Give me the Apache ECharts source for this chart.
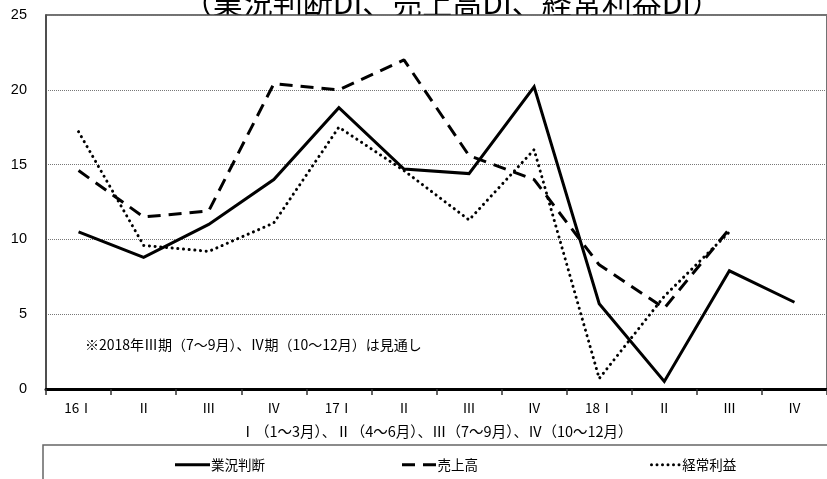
<!DOCTYPE html>
<html>
<head>
<meta charset="utf-8">
<script src="https://cdn.jsdelivr.net/npm/echarts@6/dist/echarts.min.js"></script>
<style>
  html, body { margin: 0; padding: 0; background: #fff; }
  #chart { width: 827px; height: 479px; }
</style>
</head>
<body>
<div id="chart"></div>
<script>
// Quarters (Ⅰ=Jan–Mar ... Ⅳ=Oct–Dec), 2016–2018
const categories = ['16Ⅰ', 'Ⅱ', 'Ⅲ', 'Ⅳ', '17Ⅰ', 'Ⅱ', 'Ⅲ', 'Ⅳ', '18Ⅰ', 'Ⅱ', 'Ⅲ', 'Ⅳ'];

// DI values
const gyokyo = [10.5, 8.8, 11.0, 14.0, 18.8, 14.7, 14.4, 20.2, 5.7, 0.5, 7.9, 5.8];      // 業況判断
const uriage = [14.6, 11.5, 11.9, 20.4, 20.0, 22.0, 15.6, 14.0, 8.3, 5.4, 10.7, null];   // 売上高
const keijo  = [17.2, 9.6, 9.2, 11.1, 17.5, 14.6, 11.3, 16.0, 0.7, 6.2, 10.5, null];     // 経常利益

const seriesNames = ['業況判断', '売上高', '経常利益'];
const yTicks = { min: 0, max: 25, interval: 5 };

const titleText = '（業況判断DI、売上高DI、経常利益DI）';
const axisNote = 'Ⅰ（1～3月）、Ⅱ（4～6月）、Ⅲ（7～9月）、Ⅳ（10～12月）';
const forecastNote = '※2018年Ⅲ期（7～9月）、Ⅳ期（10～12月）は見通し';

const JP = '"Noto Sans CJK JP", sans-serif';

// legend key shapes: solid bar, two dashes, row of dots
const dotPath = (() => {
  let p = '';
  for (let i = 0; i < 6; i++) {
    const cx = 1.5 + i * 5.5;
    p += 'M' + (cx - 1.5) + ',1.5a1.5,1.5 0 1,0 3,0a1.5,1.5 0 1,0 -3,0z';
  }
  return 'path://' + p;
})();
const legendIcons = [
  'path://M0,0h35v3h-35z',
  'path://M0,0h13v3h-13zM21,0h13v3h-13z',
  dotPath
];

const chart = echarts.init(document.getElementById('chart'), null, { renderer: 'canvas' });

function makeLegend(idx, left, w) {
  return {
    left: left,
    top: 453,
    data: [{ name: seriesNames[idx], icon: legendIcons[idx] }],
    itemWidth: w,
    itemHeight: 3,
    itemGap: 0,
    itemStyle: { color: '#000', borderWidth: 0 },
    lineStyle: { width: 0 },
    textStyle: { fontFamily: JP, fontSize: 13.5, color: '#000', padding: [0, 0, 0, -4] },
    selectedMode: false
  };
}

chart.setOption({
  animation: false,
  backgroundColor: '#fff',
  grid: {
    left: 46, right: -4, top: 15, bottom: 90,
    show: true,
    backgroundColor: '#fff',
    borderColor: '#444',
    borderWidth: 1.5
  },
  graphic: [
    {
      type: 'text', z: -10,
      style: {
        text: titleText, x: 452, y: 3,
        font: '30px ' + JP, fill: '#000',
        textAlign: 'center', textVerticalAlign: 'middle'
      }
    },
    {
      type: 'text', z: 10,
      style: {
        text: forecastNote, x: 85, y: 345,
        font: '14px ' + JP, fill: '#000',
        textVerticalAlign: 'middle'
      }
    },
    {
      type: 'rect', z: 10,
      shape: { x: 43, y: 445, width: 820, height: 60 },
      style: { fill: 'none', stroke: '#666', lineWidth: 1.5 }
    }
  ],
  legend: [
    makeLegend(0, 170, 35),
    makeLegend(1, 397, 35),
    makeLegend(2, 645, 32)
  ],
  xAxis: {
    type: 'category',
    data: categories,
    boundaryGap: true,
    name: axisNote,
    nameLocation: 'middle',
    nameGap: 35,
    nameTextStyle: { fontFamily: JP, fontSize: 14.5, color: '#000' },
    axisLine: { onZero: true, lineStyle: { color: '#000', width: 3 } },
    axisTick: { show: true, interval: 0, length: 6, lineStyle: { color: '#333', width: 1.5 } },
    axisLabel: { interval: 0, margin: 12, fontFamily: JP, fontSize: 13.5, color: '#000' },
    splitLine: { show: false }
  },
  yAxis: {
    type: 'value',
    min: yTicks.min, max: yTicks.max, interval: yTicks.interval,
    axisLine: { show: true, lineStyle: { color: '#444', width: 1.5 } },
    axisTick: { show: false },
    axisLabel: { margin: 19, fontFamily: 'Liberation Sans, Arial, sans-serif', fontSize: 14.5, color: '#000' },
    splitLine: { show: true, lineStyle: { color: '#777', width: 1, type: [1, 1] } }
  },
  series: [
    {
      name: seriesNames[0], type: 'line', data: gyokyo,
      symbol: 'none', z: 4,
      lineStyle: { color: '#000', width: 3, join: 'miter' },
      itemStyle: { color: '#000' }
    },
    {
      name: seriesNames[1], type: 'line', data: uriage,
      symbol: 'none', z: 3,
      lineStyle: { color: '#000', width: 3, type: [13, 8] },
      itemStyle: { color: '#000' }
    },
    {
      name: seriesNames[2], type: 'line', data: keijo,
      symbol: 'none', z: 3,
      lineStyle: { color: '#000', width: 3, type: [0.1, 5.6], cap: 'round' },
      itemStyle: { color: '#000' }
    }
  ]
});
</script>
</body>
</html>
